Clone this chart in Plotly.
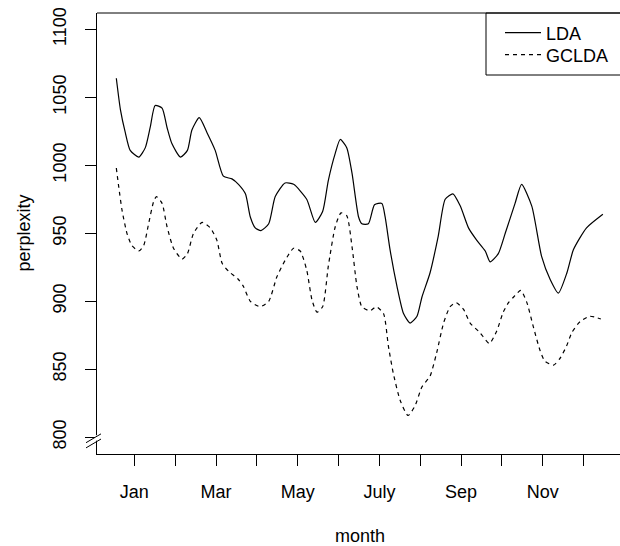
import plotly.graph_objects as go

# ---- data (x in months, Jan = 1) ----
lda_month = [0.56, 0.66, 0.78, 0.90, 1.11, 1.27, 1.39, 1.51, 1.68, 1.80, 1.92, 2.13, 2.30, 2.41,
             2.59, 2.78, 2.98, 3.18, 3.39, 3.55, 3.72, 3.84, 3.96, 4.10, 4.29, 4.45, 4.69, 4.90,
             5.22, 5.43, 5.61, 5.75, 5.92, 6.04, 6.20, 6.33, 6.49, 6.57, 6.73, 6.88, 7.06, 7.14,
             7.26, 7.43, 7.59, 7.75, 7.92, 8.04, 8.24, 8.44, 8.61, 8.80, 8.98, 9.18, 9.38, 9.59,
             9.71, 9.91, 10.08, 10.32, 10.48, 10.73, 10.97, 11.18, 11.38, 11.59, 11.75, 12.07, 12.47]
lda_perplexity = [1064, 1041, 1024, 1011, 1006, 1013, 1028, 1044, 1042, 1028, 1016, 1006, 1011, 1026,
                  1035, 1024, 1011, 992, 990, 986, 979, 962, 954, 952, 957, 977, 987, 986,
                  975, 958, 966, 989, 1009, 1019, 1013, 994, 962, 957, 957, 971, 972, 962,
                  938, 911, 891, 884, 889, 903, 921, 948, 975, 979, 970, 954, 945, 937,
                  929, 935, 950, 972, 986, 970, 933, 916, 906, 921, 938, 954, 964]

gclda_month = [0.56, 0.62, 0.70, 0.82, 0.94, 1.11, 1.23, 1.35, 1.47, 1.54, 1.68, 1.80, 1.96, 2.17,
               2.30, 2.45, 2.66, 2.86, 3.02, 3.15, 3.31, 3.55, 3.67, 3.84, 4.08, 4.29, 4.49, 4.69,
               4.90, 5.06, 5.22, 5.35, 5.47, 5.61, 5.75, 5.92, 6.06, 6.20, 6.33, 6.45, 6.57, 6.77,
               6.92, 7.10, 7.22, 7.34, 7.51, 7.70, 7.87, 8.04, 8.24, 8.40, 8.57, 8.73, 8.88, 9.06,
               9.22, 9.46, 9.69, 9.87, 10.03, 10.16, 10.28, 10.46, 10.61, 10.77, 10.93, 11.05, 11.26,
               11.42, 11.58, 11.71, 11.91, 12.15, 12.42]
gclda_perplexity = [998, 984, 967, 950, 941, 937, 941, 957, 973, 977, 972, 955, 939, 931,
                    935, 950, 958, 954, 945, 928, 922, 916, 911, 900, 896, 900, 918, 930,
                    939, 937, 923, 901, 892, 896, 926, 955, 965, 963, 940, 911, 896, 893,
                    896, 891, 867, 847, 827, 816, 823, 837, 845, 862, 884, 896, 899, 894,
                    884, 877, 869, 878, 892, 899, 903, 908, 899, 881, 864, 856, 853,
                    858, 867, 877, 885, 889, 887]

month_ticks = list(range(1, 13))
month_labels = ["Jan", "", "Mar", "", "May", "", "July", "", "Sep", "", "Nov", ""]
y_ticks = [800, 850, 900, 950, 1000, 1050, 1100]

FONT = "Liberation Sans, Arial, Helvetica, sans-serif"

# plot area geometry (pixels)
L, R, T, B = 97, 0, 13, 92
W, H = 620, 546
pw = W - L - R
ph = H - T - B

def px_to_paper(px):
    return (px - L) / pw

def py_to_paper(py):
    return 1 - (py - T) / ph

fig = go.Figure()
fig.add_trace(go.Scatter(x=lda_month, y=lda_perplexity, mode="lines", name="LDA", legend="legend",
                         line=dict(color="black", width=1.2, shape="spline", smoothing=0.6)))
fig.add_trace(go.Scatter(x=gclda_month, y=gclda_perplexity, mode="lines", name="GCLDA", legend="legend2",
                         line=dict(color="black", width=1.2, dash="4px,4px", shape="spline", smoothing=0.6)))

shapes = []
# top frame line (box extends beyond the right edge of the picture)
shapes.append(dict(type="line", xref="paper", yref="paper", x0=0, x1=1.01, y0=1, y1=1,
                   line=dict(color="black", width=1)))
# legend box
shapes.append(dict(type="rect", xref="paper", yref="paper",
                   x0=px_to_paper(486), x1=1.02, y0=1, y1=py_to_paper(75),
                   line=dict(color="black", width=1), fillcolor="rgba(0,0,0,0)"))
# axis break on y axis
shapes.append(dict(type="rect", xref="paper", yref="y", x0=px_to_paper(95), x1=px_to_paper(99.5),
                   y0=797.5, y1=801.5, line=dict(width=0), fillcolor="white", layer="above"))
for y0, y1 in [(796.0, 802.5), (792.2, 798.7)]:
    shapes.append(dict(type="line", xref="paper", yref="y", x0=px_to_paper(86), x1=px_to_paper(101),
                       y0=y0, y1=y1, line=dict(color="black", width=1), layer="above"))

legend_common = dict(xanchor="left", yanchor="middle", bgcolor="rgba(0,0,0,0)", borderwidth=0,
                     font=dict(size=18, family=FONT), itemwidth=36)

annotations = [
    dict(text="month", xref="paper", yref="paper", x=px_to_paper(359.5), y=py_to_paper(536),
         xanchor="center", yanchor="middle", showarrow=False, font=dict(size=18, family=FONT)),
    dict(text="perplexity", xref="paper", yref="paper", x=px_to_paper(23), y=py_to_paper(233.5),
         xanchor="center", yanchor="middle", textangle=-90, showarrow=False,
         font=dict(size=18, family=FONT)),
]

fig.update_layout(
    width=W, height=H,
    margin=dict(l=L, r=R, t=T, b=B, pad=0, autoexpand=False),
    plot_bgcolor="white", paper_bgcolor="white",
    font=dict(family=FONT, size=18, color="black"),
    showlegend=True,
    legend=dict(x=px_to_paper(500), y=py_to_paper(33), **legend_common),
    legend2=dict(x=px_to_paper(500), y=py_to_paper(55), **legend_common),
    shapes=shapes,
    annotations=annotations,
    xaxis=dict(range=[0.087, 12.889], tickmode="array", tickvals=month_ticks, ticktext=month_labels,
               showline=True, linecolor="black", linewidth=1, ticks="outside", ticklen=11,
               tickcolor="black", tickwidth=1, showgrid=False, zeroline=False,
               ticklabelstandoff=10, automargin=False),
    yaxis=dict(range=[787.7, 1112.0], tickmode="array", tickvals=y_ticks,
               showline=True, linecolor="black", linewidth=1, ticks="outside", ticklen=11,
               tickcolor="black", tickwidth=1, showgrid=False, zeroline=False,
               tickangle=-90, ticklabelstandoff=12, automargin=False),
)

fig.write_html("out.html", config={"displayModeBar": False},
               post_script="document.body.style.margin='0';document.body.style.overflow='hidden';")
